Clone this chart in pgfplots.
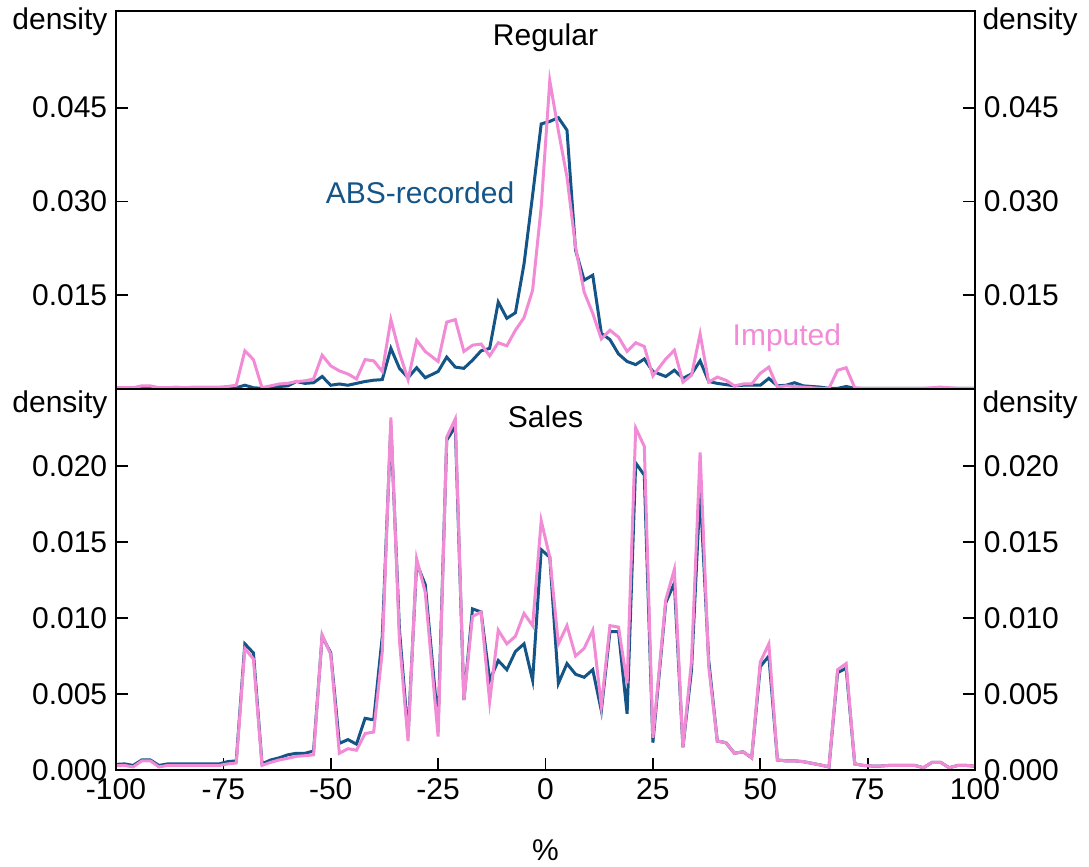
\documentclass[border=0pt]{standalone}
\usepackage{fontspec}
\setmainfont{Liberation Sans}
\usepackage{pgfplots}
\usepackage{pgfplotstable}
\pgfplotsset{compat=1.18}
\definecolor{absblue}{RGB}{20,84,134}
\definecolor{imppink}{RGB}{242,139,214}
\newcommand{\fs}{\fontsize{12}{14}\selectfont}

\pgfplotstableread{
x abs imp
-100 0.0002 0.0002
-98 0.0002 0.0002
-96 0.0001 0.0002
-94 0.0002 0.0005
-92 0.0002 0.0005
-90 0.0001 0.0002
-88 0.0001 0.0002
-86 0.0001 0.0003
-84 0.0001 0.0002
-82 0.0001 0.0003
-80 0.0001 0.0003
-78 0.0001 0.0003
-76 0.0001 0.0003
-74 0.0002 0.0004
-72 0.0002 0.0006
-70 0.0006 0.0061
-68 0.0002 0.0047
-66 0.0001 0.0002
-64 0.0002 0.0005
-62 0.0004 0.0008
-60 0.0005 0.0009
-58 0.0012 0.0012
-56 0.0009 0.0013
-54 0.0010 0.0016
-52 0.0020 0.0054
-50 0.0006 0.0037
-48 0.0008 0.0029
-46 0.0006 0.0024
-44 0.0009 0.0016
-42 0.0012 0.0047
-40 0.0014 0.0045
-38 0.0015 0.0028
-36 0.0065 0.0111
-34 0.0033 0.0058
-32 0.0018 0.0015
-30 0.0034 0.0078
-28 0.0018 0.0060
-25 0.0028 0.0044
-23 0.0051 0.0107
-21 0.0035 0.0111
-19 0.0033 0.0060
-17 0.0046 0.0070
-15 0.0061 0.0072
-13 0.0065 0.0053
-11 0.0139 0.0074
-9 0.0113 0.0069
-7 0.0122 0.0094
-5 0.0200 0.0114
-3 0.0310 0.0158
-1 0.0424 0.0291
1 0.0428 0.0493
3 0.0434 0.0413
5 0.0414 0.0339
7 0.0222 0.0227
9 0.0174 0.0155
11 0.0182 0.0121
13 0.0089 0.0080
15 0.0079 0.0094
17 0.0056 0.0083
19 0.0044 0.0060
21 0.0039 0.0074
23 0.0048 0.0068
25 0.0028 0.0021
28 0.0020 0.0048
30 0.0030 0.0062
32 0.0017 0.0011
34 0.0024 0.0022
36 0.0045 0.0088
38 0.0012 0.0011
40 0.0009 0.0019
42 0.0007 0.0014
44 0.0005 0.0005
46 0.0006 0.0008
48 0.0006 0.0008
50 0.0006 0.0025
52 0.0017 0.0035
54 0.0005 0.0003
56 0.0006 0.0005
58 0.0010 0.0004
60 0.0005 0.0003
62 0.0004 0.0002
64 0.0003 0.0001
66 0.0001 0.0001
68 0.0001 0.0030
70 0.0004 0.0034
72 0.0001 0.0002
74 0.0001 0.0001
76 0.0001 0.0001
78 0.0001 0.0001
80 0.0001 0.0001
82 0.0001 0.0001
84 0.0001 0.0001
86 0.0001 0.0001
88 0.0001 0.0001
90 0.0001 0.0002
92 0.0002 0.0003
94 0.0001 0.0002
96 0.0001 0.0001
98 0.0001 0.0001
100 0.0001 0.0001
}\topdata

\pgfplotstableread{
x abs imp
-100 0.00037 0.00029
-98 0.0004 0.0003
-96 0.0003 0.0002
-94 0.00066 0.0006
-92 0.00066 0.0006
-90 0.0003 0.0002
-88 0.0004 0.0003
-86 0.0004 0.0003
-84 0.0004 0.0003
-82 0.0004 0.0003
-80 0.0004 0.0003
-78 0.0004 0.0003
-76 0.0004 0.0003
-74 0.00055 0.0004
-72 0.0006 0.00046
-70 0.0083 0.0080
-68 0.0077 0.0073
-66 0.0004 0.0003
-64 0.00066 0.0005
-62 0.0008 0.00066
-60 0.0010 0.00077
-58 0.0011 0.0009
-56 0.0011 0.00094
-54 0.00125 0.0010
-52 0.0088 0.0089
-50 0.0077 0.0076
-48 0.00175 0.0011
-46 0.0020 0.0014
-44 0.0017 0.0013
-42 0.0034 0.0024
-40 0.0033 0.0025
-38 0.0088 0.0078
-36 0.0227 0.0232
-34 0.0092 0.0085
-32 0.0023 0.0019
-30 0.0136 0.0139
-28 0.0122 0.0117
-25 0.0030 0.0022
-23 0.0217 0.0219
-21 0.0226 0.0231
-19 0.0046 0.0046
-17 0.0106 0.0101
-15 0.0104 0.0104
-13 0.0059 0.0045
-11 0.0072 0.0092
-9 0.0066 0.0083
-7 0.0078 0.0088
-5 0.0083 0.0103
-3 0.0059 0.0095
-1 0.0145 0.0164
1 0.0140 0.0140
3 0.0057 0.0083
5 0.0070 0.0095
7 0.0063 0.0075
9 0.0061 0.0080
11 0.0066 0.0092
13 0.0039 0.0042
15 0.0091 0.0095
17 0.0091 0.0094
19 0.0037 0.0057
21 0.0202 0.0225
23 0.0194 0.0213
25 0.0018 0.0021
28 0.0110 0.0112
30 0.0123 0.0132
32 0.0015 0.0015
34 0.0066 0.0072
36 0.0184 0.0209
38 0.0072 0.0068
40 0.0019 0.0019
42 0.0018 0.0018
44 0.0011 0.0011
46 0.0012 0.0012
48 0.0008 0.0008
50 0.0068 0.0071
52 0.0075 0.0083
54 0.00066 0.00066
56 0.0006 0.0006
58 0.0006 0.0006
60 0.00055 0.00055
62 0.00044 0.00044
64 0.00033 0.00033
66 0.0002 0.0002
68 0.0064 0.0066
70 0.0067 0.0070
72 0.0004 0.0004
74 0.0003 0.0003
76 0.00026 0.00026
78 0.00026 0.00026
80 0.0003 0.0003
82 0.0003 0.0003
84 0.0003 0.0003
86 0.0003 0.0003
88 0.00015 0.00015
90 0.0005 0.0005
92 0.0005 0.0005
94 0.00015 0.00015
96 0.0003 0.0003
98 0.0003 0.0003
100 0.00025 0.00025
}\botdata

\pgfplotsset{
  panel/.style={
    scale only axis,
    width=343.6pt,
    xmin=-100, xmax=100,
    scaled x ticks=false,
    scaled y ticks=false,
    axis line style={line width=0.7pt, black},
    every tick/.style={line width=0.7pt, black},
    major tick length=4.8pt,
    tick align=inside,
    ytick pos=both,
    every tick label/.append style={font=\fs, text=black},
    clip mode=individual,
  },
  topp/.style={panel, at={(0,152.4pt)}, anchor=south west, height=151.3pt,
    ymin=0, ymax=0.0605, ytick={0.015,0.03,0.045}, yticklabels={0.015,0.030,0.045},
    xtick=\empty},
  botp/.style={panel, at={(0,0)}, anchor=south west, height=152.4pt,
    ymin=0, ymax=0.02507, ytick={0,0.005,0.01,0.015,0.02},
    yticklabels={0.000,0.005,0.010,0.015,0.020}},
}

\begin{document}
\begin{tikzpicture}
% top panel
\begin{axis}[topp]
\addplot[absblue, line width=1.2pt] table[x=x,y=abs]{\topdata};
\addplot[imppink, line width=1.2pt] table[x=x,y=imp]{\topdata};
\node[font=\fs, anchor=center] at (rel axis cs:0.5,1) [yshift=-11pt] {Regular};
\node[font=\fs, anchor=east, inner sep=0pt] at (rel axis cs:0,1) [xshift=-3.2pt, yshift=-4.6pt] {density};
\node[font=\fs, anchor=west, inner sep=0pt] at (rel axis cs:1,1) [xshift=2.8pt, yshift=-4.6pt] {density};
\node[font=\fs, text=absblue, anchor=center] at (axis cs:-29.2,0.0314) {ABS-recorded};
\node[font=\fs, text=imppink, anchor=center] at (axis cs:56.2,0.0082) {Imputed};
\end{axis}
\begin{axis}[topp, yticklabel pos=right]
\end{axis}
% bottom panel
\begin{axis}[botp, xtick={-100,-75,-50,-25,0,25,50,75,100},
  xticklabels={-100,-75,-50,-25,0,25,50,75,100}, xtick pos=bottom]
\addplot[absblue, line width=1.2pt] table[x=x,y=abs]{\botdata};
\addplot[imppink, line width=1.2pt] table[x=x,y=imp]{\botdata};
\node[font=\fs, anchor=center] at (rel axis cs:0.5,1) [yshift=-11.2pt] {Sales};
\node[font=\fs, anchor=east, inner sep=0pt] at (rel axis cs:0,1) [xshift=-3.2pt, yshift=-6.4pt] {density};
\node[font=\fs, anchor=west, inner sep=0pt] at (rel axis cs:1,1) [xshift=2.8pt, yshift=-6.4pt] {density};
\node[font=\fs, anchor=center] at (rel axis cs:0.5,0) [yshift=-32pt] {\%};
\end{axis}
\begin{axis}[botp, yticklabel pos=right, xtick=\empty]
\end{axis}
\pgfresetboundingbox
\path[use as bounding box] (-46.4pt,-38.8pt) rectangle (389.2pt,308pt);
\end{tikzpicture}
\end{document}
